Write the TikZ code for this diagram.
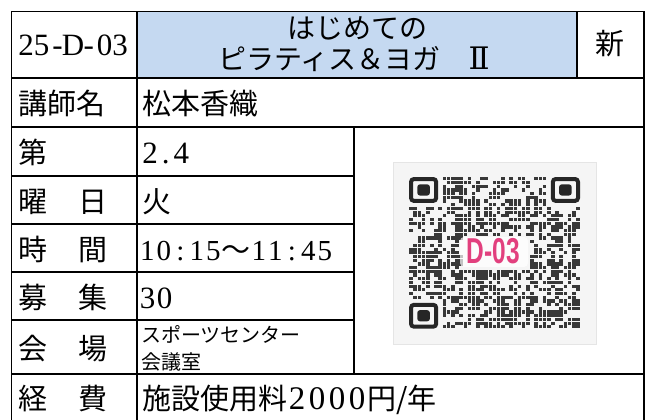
\documentclass[tikz,border=0pt]{standalone}
\usepackage{fontspec}
\setmainfont{Liberation Serif}
\newfontfamily\jp{Noto Sans CJK JP}
\newfontfamily\qrfont{Liberation Sans}
\newfontfamily\romfont{DejaVu Serif}
\definecolor{hdrblue}{RGB}{197,217,241}
\definecolor{qrpink}{RGB}{226,64,126}
\newcommand\seqbox[2]{\def\sbw{#1}\sbx#2\relax}
\def\sbx#1{\ifx#1\relax\else\makebox[\sbw]{#1}\expandafter\sbx\fi}
\tikzset{
  gridline/.style={line width=1.4pt, black},
  thickline/.style={line width=2.6pt, black},
  lab/.style={inner sep=0pt, anchor=base west, font=\jp\fontsize{29}{29}\selectfont},
  val/.style={inner sep=0pt, anchor=base west, font=\jp\fontsize{29}{29}\selectfont},
  small/.style={inner sep=0pt, anchor=base west, font=\jp\fontsize{20}{20}\selectfont},
  title/.style={inner sep=0pt, anchor=base, font=\jp\fontsize{28}{28}\selectfont},
  qrdot/.style={fill=black!78},
  finder/.style={draw=black!85, line width=4pt, rounded corners=3pt},
}
\begin{document}
\begin{tikzpicture}[x=1pt,y=-1pt]
\useasboundingbox (0,0) rectangle (649,420);
\clip (0,0) rectangle (649,420);
\fill[white] (0,0) rectangle (649,420);
% header fill
\fill[hdrblue] (137,11.7) rectangle (577,78);
% grid
\draw[gridline] (11.7,11.7) rectangle (644,430);
\draw[gridline] (137,11.7) -- (137,430);
\draw[gridline] (577,11.7) -- (577,78);
\draw[thickline] (11.7,78) -- (644,78);
\draw[gridline] (11.7,127) -- (644,127);
\draw[gridline] (11.7,176) -- (354,176);
\draw[gridline] (11.7,224) -- (354,224);
\draw[gridline] (11.7,272) -- (354,272);
\draw[gridline] (11.7,320) -- (354,320);
\draw[gridline] (11.7,374) -- (644,374);
\draw[gridline] (354,127) -- (354,374);
% header texts
\node[inner sep=0pt, anchor=base west, font=\fontsize{31}{31}\selectfont] (code) at (18,56) {\seqbox{15.7pt}{25-D-03}};
\node[title] (t1) at (357,39) {はじめての};
\node[title] (t2) at (354,70) {ピラティス＆ヨガ　{\romfont\fontsize{31}{31}\selectfont Ⅱ}};
\node[title, font=\jp\fontsize{29}{29}\selectfont] (new) at (610,55) {新};
% labels
\node[lab] (l1) at (18,114.5) {講師名};
\node[lab] (l2) at (18,163.5) {第};
\node[lab] (l3) at (18,212) {曜\hspace{31pt}日};
\node[lab] (l4) at (18,260) {時\hspace{31pt}間};
\node[lab] (l5) at (18,308) {募\hspace{31pt}集};
\node[lab] (l6) at (18,359) {会\hspace{31pt}場};
\node[lab] (l7) at (18,409) {経\hspace{31pt}費};
% values
\node[val] (v1) at (142,114.5) {松本香織};
\node[val, font=\fontsize{31}{31}\selectfont] (v2) at (142,163.5) {\seqbox{15.7pt}{2.4}};
\node[val] (v3) at (142,212) {火};
\node[val] (v4) at (139,260) {{\fontspec{Liberation Serif}\seqbox{16.5pt}{10:15}}～{\fontspec{Liberation Serif}\seqbox{16.5pt}{11:45}}};
\node[val, font=\fontsize{31}{31}\selectfont] (v5) at (139,308) {\seqbox{17pt}{30}};
\node[small] (v6a) at (141,342.5) {スポーツセンター};
\node[small] (v6b) at (141,369) {会議室};
\node[val] (v7) at (142,409) {施設使用料{\fontspec{Liberation Serif}\fontsize{33}{33}\selectfont\seqbox{20pt}{2000}}円/年};
% QR code
\fill[black!4] (393,162) rectangle (596,344);
\draw[black!10, line width=0.6pt] (393,162) rectangle (596,344);
\pgfmathsetseed{11}
\foreach \i in {0,...,40}{
  \foreach \j in {0,...,40}{
    \pgfmathsetmacro\qr{rnd}
    \pgfmathtruncatemacro\qsk{((\i<8 && \j<8) || (\i>32 && \j<8) || (\i<8 && \j>32) || (\i>12 && \i<29 && \j>15 && \j<25)) ? 1 : 0}
    \ifnum\qsk=0
      \ifdim\qr pt<0.56pt
        \fill[qrdot] ({409+\i*4.17+0.3},{177+\j*3.7+0.25}) rectangle ++(3.6,3.2);
      \fi
    \fi
  }
}
\foreach \fx/\fy in {409/177, 550.8/177, 409/302.8}{
  \draw[finder] ({\fx+2},{\fy+2}) rectangle ++(25.2,21.9);
  \fill[black!85, rounded corners=2.5pt] ({\fx+2*4.17},{\fy+2*3.7}) rectangle ++(12.5,11.1);
}
\fill[white, opacity=0.7, rounded corners=4pt] (460,237) rectangle (528,267);
\node[inner sep=0pt, text=qrpink, font=\qrfont\bfseries\fontsize{36}{36}\selectfont, xscale=0.68] (qrlabel) at (493.5,251.5) {D-03};
\end{tikzpicture}
\end{document}
